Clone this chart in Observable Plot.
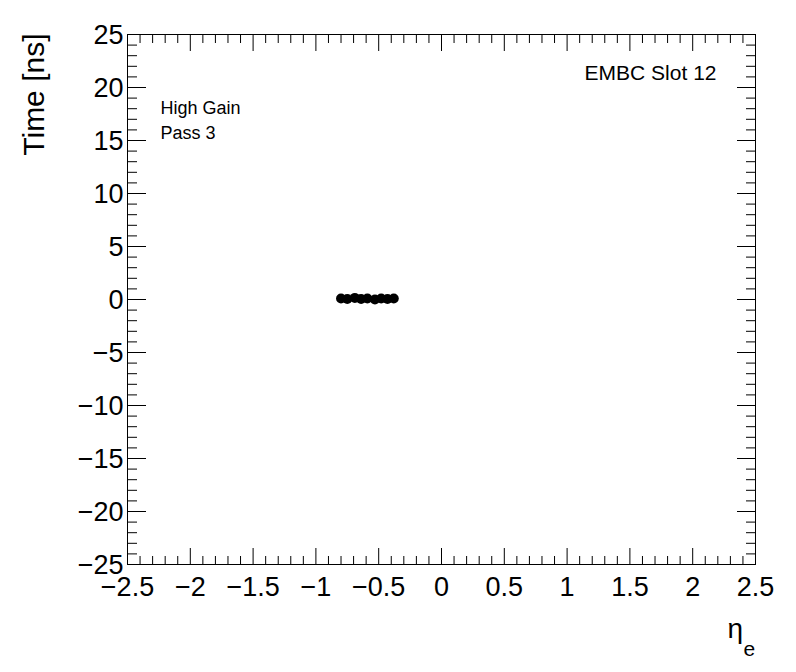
<!DOCTYPE html>
<html>
<head>
<meta charset="utf-8">
<script src="https://cdn.jsdelivr.net/npm/d3@7"></script>
<script src="https://cdn.jsdelivr.net/npm/@observablehq/plot@0.6"></script>
<style>
  html, body { margin: 0; padding: 0; background: #fff; }
  #chart { width: 796px; height: 672px; }
</style>
</head>
<body>
<div id="chart"></div>
<script>
// Data
const eta = [-0.80, -0.75, -0.69, -0.64, -0.59, -0.53, -0.48, -0.43, -0.38];
const time = [0.10, 0.05, 0.15, 0.05, 0.10, 0.00, 0.10, 0.05, 0.10];

const xMajor = [-2.5, -2, -1.5, -1, -0.5, 0, 0.5, 1, 1.5, 2, 2.5];
const yMajor = [-25, -20, -15, -10, -5, 0, 5, 10, 15, 20, 25];
const xMinor = d3.range(-25, 26).map(v => v / 10).filter(v => !xMajor.includes(v));
const yMinor = d3.range(-25, 26).filter(v => !yMajor.includes(v));

const titleX = "η";
const titleXSub = "e";
const titleY = "Time [ns]";
const labelGain = "High Gain";
const labelPass = "Pass 3";
const labelSlot = "EMBC Slot 12";

const points = eta.map((x, i) => ({x, y: time[i]}));
const fmt = d => String(d).replace("-", "\u2212");
const blank = () => "";
const FONT = "'Liberation Sans', Arial, Helvetica, sans-serif";

const chart = Plot.plot({
  width: 796,
  height: 672,
  marginLeft: 127,
  marginRight: 41,
  marginTop: 34,
  marginBottom: 108,
  style: {fontFamily: FONT, background: "#fff", color: "#000", overflow: "visible"},
  x: {domain: [-2.5, 2.5], label: null},
  y: {domain: [-25, 25], label: null},
  marks: [
    // inward tick marks on all four sides
    Plot.axisX(xMajor, {anchor: "bottom", tickSize: -16, tickFormat: blank, label: null}),
    Plot.axisX(xMinor, {anchor: "bottom", tickSize: -8, tickFormat: blank, label: null}),
    Plot.axisX(xMajor, {anchor: "top", tickSize: -16, tickFormat: blank, label: null}),
    Plot.axisX(xMinor, {anchor: "top", tickSize: -8, tickFormat: blank, label: null}),
    Plot.axisY(yMajor, {anchor: "left", tickSize: -19, tickFormat: blank, label: null}),
    Plot.axisY(yMinor, {anchor: "left", tickSize: -10, tickFormat: blank, label: null}),
    Plot.axisY(yMajor, {anchor: "right", tickSize: -19, tickFormat: blank, label: null}),
    Plot.axisY(yMinor, {anchor: "right", tickSize: -10, tickFormat: blank, label: null}),
    // tick labels
    Plot.axisX(xMajor, {anchor: "bottom", tickSize: 0, tickPadding: 12, fontSize: 27, tickFormat: fmt, label: null}),
    Plot.axisY(yMajor, {anchor: "left", tickSize: 0, tickPadding: 4, fontSize: 27, tickFormat: fmt, label: null, dy: 1}),
    Plot.frame({stroke: "#000", strokeWidth: 1}),
    // data points
    Plot.dot(points, {x: "x", y: "y", r: 5, fill: "#000", stroke: "none"}),
    // annotations
    Plot.text([labelSlot], {frameAnchor: "top-right", dx: -39, dy: 45, textAnchor: "end", lineAnchor: "bottom", fontSize: 21, fill: "#000"}),
    Plot.text([labelGain], {frameAnchor: "top-left", dx: 33, dy: 79, textAnchor: "start", lineAnchor: "bottom", fontSize: 18, fill: "#000"}),
    Plot.text([labelPass], {frameAnchor: "top-left", dx: 33, dy: 104, textAnchor: "start", lineAnchor: "bottom", fontSize: 18, fill: "#000"}),
    // axis titles
    Plot.text([titleY], {frameAnchor: "top-left", dx: -84, dy: -1, rotate: -90, textAnchor: "end", lineAnchor: "bottom", fontSize: 30, fill: "#000"}),
    Plot.text([titleX], {frameAnchor: "bottom-right", dx: -28, dy: 73, textAnchor: "start", lineAnchor: "bottom", fontSize: 28, fill: "#000"}),
    Plot.text([titleXSub], {frameAnchor: "bottom-right", dx: -12, dy: 91, textAnchor: "start", lineAnchor: "bottom", fontSize: 21, fill: "#000"})
  ]
});
document.getElementById("chart").appendChild(chart);
</script>
</body>
</html>
